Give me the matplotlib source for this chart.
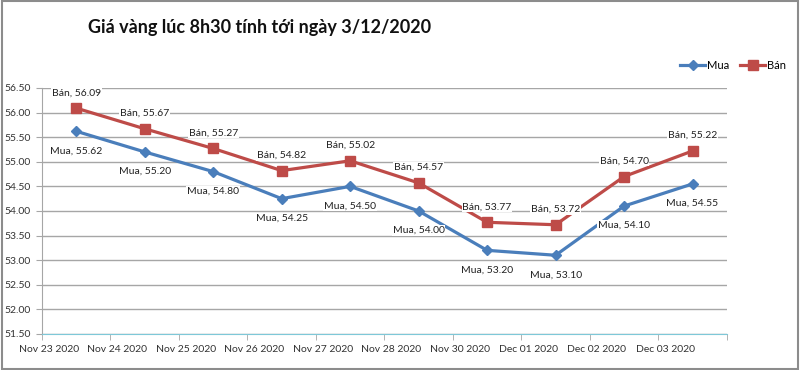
import matplotlib
matplotlib.use("Agg")
import matplotlib.pyplot as plt
from matplotlib.patches import Rectangle

# du lieu gia vang
dates = ["Nov 23 2020", "Nov 24 2020", "Nov 25 2020", "Nov 26 2020", "Nov 27 2020",
         "Nov 28 2020", "Nov 30 2020", "Dec 01 2020", "Dec 02 2020", "Dec 03 2020"]
mua = [55.62, 55.20, 54.80, 54.25, 54.50, 54.00, 53.20, 53.10, 54.10, 54.55]
ban = [56.09, 55.67, 55.27, 54.82, 55.02, 54.57, 53.77, 53.72, 54.70, 55.22]
yticks = [51.5, 52.0, 52.5, 53.0, 53.5, 54.0, 54.5, 55.0, 55.5, 56.0, 56.5]

plt.rcParams['font.family'] = ['Lato', 'DejaVu Sans']

fig = plt.figure(figsize=(8, 3.7), dpi=100)
ax = fig.add_axes([0.0525, 0.0973, 0.856, 0.665])

x = list(range(len(dates)))
blue = "#4a7ebb"
red = "#be4b48"

ax.plot(x, mua, color=blue, lw=2.3, marker="D", ms=5, label="Mua", zorder=3)
ax.plot(x, ban, color=red, lw=2.3, marker="s", ms=7, label="Bán", zorder=3)

box = dict(facecolor="white", edgecolor="none", pad=0.5)
for i in x:
    ax.annotate(f"Bán, {ban[i]:.2f}", (i, ban[i]), xytext=(0, 11), textcoords="offset points",
                ha="center", va="center", fontsize=7.5, color="#222222", bbox=box, zorder=4)
    ax.annotate(f"Mua, {mua[i]:.2f}", (i, mua[i]), xytext=(0, -14), textcoords="offset points",
                ha="center", va="center", fontsize=7.5, color="#222222", bbox=box, zorder=4)

ax.set_xlim(-0.5, len(dates) - 0.5)
ax.set_ylim(51.5, 56.5)
ax.set_yticks(yticks)
ax.set_yticklabels([f"{v:.2f}" for v in yticks], fontsize=7.5, color="#333333")
ax.grid(axis="y", color="#a6a6a6", lw=1)
ax.set_axisbelow(True)

# nhan truc x lech trai nhu Excel
ax.set_xticks([i - 0.4 for i in x])
ax.set_xticklabels(dates, fontsize=7.5, color="#333333")
ax.set_xticks([i - 0.5 for i in x] + [len(dates) - 0.5], minor=True)
ax.tick_params(axis="x", which="major", length=0, pad=8)
ax.tick_params(axis="x", which="minor", length=4, color="#a6a6a6")
ax.tick_params(axis="y", length=4, color="#a6a6a6", pad=4)

for s in ["top", "right"]:
    ax.spines[s].set_visible(False)
ax.spines["left"].set_color("#a6a6a6")
ax.spines["bottom"].set_color("#7ec8d8")

fig.text(0.325, 0.925, "Giá vàng lúc 8h30 tính tới ngày 3/12/2020", ha="center", va="center",
         fontsize=13, fontweight="bold", color="#111111")

fig.legend(loc="center right", bbox_to_anchor=(0.995, 0.822), ncol=2, frameon=False,
           fontsize=8, handlelength=2.2, columnspacing=1.0, handletextpad=0.2)

fig.patches.append(Rectangle((0.002, 0.003), 0.996, 0.994, transform=fig.transFigure,
                             fill=False, edgecolor="#8c8c8c", lw=1.5))

fig.savefig("out.png", dpi=100)
